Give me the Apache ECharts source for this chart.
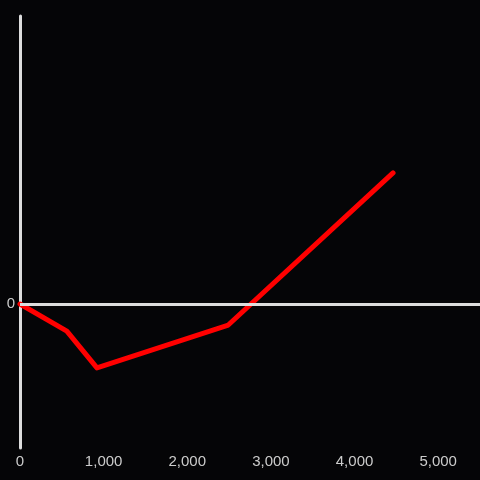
<!DOCTYPE html>
<html>
<head>
<meta charset="utf-8">
<script src="https://cdn.jsdelivr.net/npm/echarts@6/dist/echarts.min.js"></script>
<style>
  html, body { margin: 0; padding: 0; background: #050507; }
  #chart { width: 480px; height: 480px; }
</style>
</head>
<body>
<div id="chart"></div>
<script>
// data
const xValues = [0, 560, 920, 2490, 4460];
const yValues = [0, -188, -444, -146, 910];
const xTicks = [0, 1000, 2000, 3000, 4000, 5000];

const points = xValues.map((x, i) => [x, yValues[i]]);

const myChart = echarts.init(document.getElementById('chart'));

const option = {
  backgroundColor: '#050507',
  animation: false,
  grid: { left: 20, right: 0, top: 16, bottom: 32 },
  xAxis: {
    type: 'value',
    min: 0,
    max: 5500,
    interval: 1000,
    axisLine: { show: false, onZero: false },
    axisTick: { show: false },
    splitLine: { show: false },
    axisLabel: {
      color: '#cccccc',
      fontSize: 15,
      fontFamily: 'Liberation Sans',
      margin: 6,
      showMaxLabel: false,
      formatter: v => xTicks.includes(v) ? v.toLocaleString('en-US') : ''
    }
  },
  yAxis: {
    type: 'value',
    min: -1000,
    max: 2000,
    interval: 1000,
    axisLine: { show: true, onZero: false, lineStyle: { color: '#dddddd', width: 3 } },
    axisTick: { show: false },
    splitLine: { show: false },
    axisLabel: {
      color: '#cccccc',
      fontSize: 15,
      fontFamily: 'Liberation Sans',
      margin: 5,
      formatter: v => v === 0 ? '0' : ''
    }
  },
  series: [{
    type: 'line',
    data: points,
    symbol: 'none',
    lineStyle: { color: '#ff0000', width: 5, cap: 'round', join: 'round' },
    markLine: {
      silent: true,
      symbol: ['none', 'none'],
      label: { show: false },
      lineStyle: { color: '#dddddd', width: 3, type: 'solid' },
      data: [{ yAxis: 0 }]
    },
    z: 3
  }]
};

myChart.setOption(option);
</script>
</body>
</html>
